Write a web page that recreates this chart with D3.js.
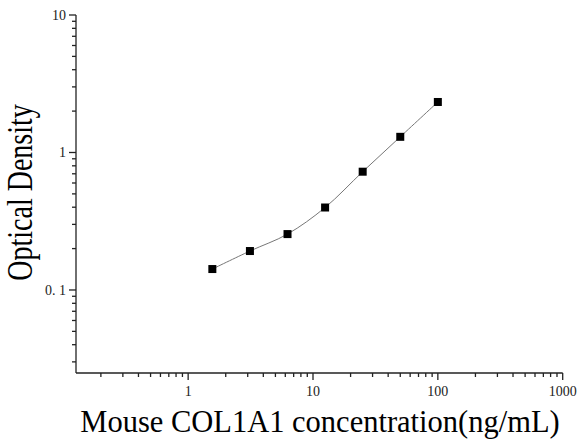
<!DOCTYPE html>
<html>
<head>
<meta charset="utf-8">
<script src="https://cdn.jsdelivr.net/npm/d3@7"></script>
<style>
  body { margin: 0; background: #fff; }
  text { font-family: "Liberation Serif", "Times New Roman", serif; fill: #222; }
</style>
</head>
<body>
<svg id="chart" width="578" height="441"></svg>
<script>
// standard curve, concentration vs OD
const conc = [1.5625, 3.125, 6.25, 12.5, 25, 50, 100];
const od = [0.142, 0.192, 0.255, 0.398, 0.725, 1.30, 2.33];
const xTicks = [1, 10, 100, 1000];
const yTicks = [0.1, 1, 10];
const yTickLabels = ["0. 1", "1", "10"];

const svg = d3.select("#chart");
const mLeft = 76, mRight = 562.7, mTop = 15, mBottom = 373;

const x = d3.scaleLog().domain([0.1264, 1000]).range([mLeft, mRight]);
const y = d3.scaleLog().domain([0.0249, 10]).range([mBottom, mTop]);

// minor ticks: 2..9 in every decade inside the domain
function minors(dom) {
  const out = [];
  for (let e = -2; e <= 3; e++) {
    for (let m = 2; m <= 9; m++) {
      const v = m * Math.pow(10, e);
      if (v > dom[0] && v < dom[1]) out.push(v);
    }
  }
  return out;
}

const ax = svg.append("g").attr("stroke", "#222").attr("stroke-width", 1.3);

// axis lines
ax.append("line").attr("x1", mLeft).attr("x2", mRight).attr("y1", mBottom).attr("y2", mBottom);
ax.append("line").attr("x1", mLeft).attr("x2", mLeft).attr("y1", mTop).attr("y2", mBottom);

// x ticks (down)
ax.selectAll(".xmin").data(minors(x.domain())).join("line")
  .attr("x1", d => x(d)).attr("x2", d => x(d))
  .attr("y1", mBottom).attr("y2", mBottom + 4);
ax.selectAll(".xmaj").data(xTicks).join("line")
  .attr("x1", d => x(d)).attr("x2", d => x(d))
  .attr("y1", mBottom).attr("y2", mBottom + 7);

// y ticks (left)
ax.selectAll(".ymin").data(minors(y.domain())).join("line")
  .attr("y1", d => y(d)).attr("y2", d => y(d))
  .attr("x1", mLeft).attr("x2", mLeft - 4);
ax.selectAll(".ymaj").data(yTicks).join("line")
  .attr("y1", d => y(d)).attr("y2", d => y(d))
  .attr("x1", mLeft).attr("x2", mLeft - 7);

// tick labels
svg.selectAll(".xl").data(xTicks).join("text")
  .attr("x", d => x(d)).attr("y", 396)
  .attr("text-anchor", "middle").attr("font-size", 14)
  .text(d => d);
svg.selectAll(".yl").data(yTicks).join("text")
  .attr("x", mLeft - 10).attr("y", d => y(d) + 5)
  .attr("text-anchor", "end").attr("font-size", 14)
  .text((d, i) => yTickLabels[i]);

// axis titles
svg.append("text")
  .attr("x", 320).attr("y", 432)
  .attr("text-anchor", "middle").attr("font-size", 30.5)
  .style("fill", "#000")
  .text("Mouse COL1A1 concentration(ng/mL)");
svg.append("text")
  .attr("transform", "translate(32,192.5) rotate(-90) scale(1,1.25)")
  .attr("text-anchor", "middle").attr("font-size", 28)
  .style("fill", "#000")
  .text("Optical Density");

// fitted curve
const pts = conc.map((c, i) => [c, od[i]]);
const line = d3.line()
  .x(d => x(d[0])).y(d => y(d[1]))
  .curve(d3.curveCatmullRom.alpha(0.5));
svg.append("path")
  .attr("d", line(pts))
  .attr("fill", "none").attr("stroke", "#777").attr("stroke-width", 1);

// markers
svg.selectAll(".pt").data(pts).join("rect")
  .attr("x", d => x(d[0]) - 4).attr("y", d => y(d[1]) - 4)
  .attr("width", 8).attr("height", 8)
  .attr("fill", "#000");
</script>
</body>
</html>
